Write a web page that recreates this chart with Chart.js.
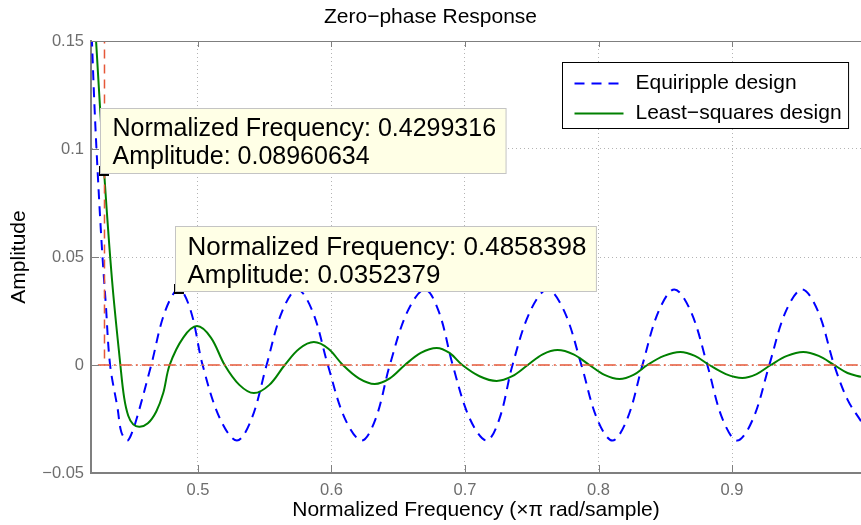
<!DOCTYPE html>
<html>
<head>
<meta charset="utf-8">
<script src="https://cdn.jsdelivr.net/npm/chart.js@4.4.1/dist/chart.umd.min.js"></script>
<style>
  html, body { margin: 0; padding: 0; background: #fff; overflow: hidden; }
  #wrap { width: 861px; height: 525px; }
</style>
</head>
<body>
<div id="wrap"><canvas id="chart" width="861" height="525"></canvas></div>
<script>
// valores (frecuencia normalizada, amplitud)
const seriesNames = ['Equiripple design', 'Least\u2212squares design'];

const equiX = [0.4200, 0.4225, 0.4250, 0.4280, 0.4310, 0.4342, 0.4398, 0.4426, 0.4469, 0.4499,
               0.4545, 0.4650, 0.4754, 0.4858, 0.4947, 0.5035, 0.5164, 0.5292, 0.5403, 0.5514,
               0.5630, 0.5745, 0.5859, 0.5973, 0.6100, 0.6227, 0.6332, 0.6437, 0.6569, 0.6700,
               0.6804, 0.6908, 0.7035, 0.7162, 0.7259, 0.7356, 0.7487, 0.7618, 0.7745, 0.7872,
               0.7988, 0.8104, 0.8217, 0.8329, 0.8449, 0.8568, 0.8692, 0.8815, 0.8927, 0.9039,
               0.9159, 0.9279, 0.9402, 0.9525, 0.9645, 0.9765, 0.9865, 0.9966];
const equiY = [0.160, 0.120, 0.088, 0.055, 0.028, 0.000, -0.020, -0.031, -0.035, -0.0324,
               -0.024, 0.000, 0.0249, 0.0352, 0.0249, 0.000, -0.0247, -0.035, -0.0247, 0.000,
               0.0247, 0.035, 0.0247, 0.000, -0.0247, -0.035, -0.0247, 0.000, 0.0247, 0.035,
               0.0247, 0.000, -0.0247, -0.035, -0.0247, 0.000, 0.0247, 0.035, 0.0247, 0.000,
               -0.0247, -0.035, -0.0247, 0.000, 0.0247, 0.035, 0.0247, 0.000, -0.0247, -0.035,
               -0.0247, 0.000, 0.0247, 0.035, 0.0247, 0.000, -0.016, -0.026];

const lsX = [0.4200, 0.4237, 0.4297, 0.4357, 0.4419, 0.4447, 0.4478, 0.4515, 0.4564, 0.4625,
             0.4688, 0.4740, 0.4788, 0.4890, 0.4993, 0.5097, 0.5200, 0.5310, 0.5419, 0.5535,
             0.5650, 0.5759, 0.5868, 0.5977, 0.6085, 0.6205, 0.6324, 0.6437, 0.6550, 0.6669,
             0.6788, 0.6884, 0.6980, 0.7109, 0.7237, 0.7354, 0.7470, 0.7582, 0.7693, 0.7813,
             0.7932, 0.8045, 0.8157, 0.8262, 0.8366, 0.8490, 0.8613, 0.8722, 0.8830, 0.8954,
             0.9077, 0.9184, 0.9290, 0.9412, 0.9533, 0.9649, 0.9765, 0.9865, 0.9966];
const lsY = [0.190, 0.150, 0.0896, 0.039, 0.000, -0.015, -0.0235, -0.0275, -0.0286, -0.027,
             -0.0215, -0.013, 0.000, 0.0127, 0.018, 0.0127, 0.000, -0.0092, -0.013, -0.0092,
             0.000, 0.0075, 0.0106, 0.0075, 0.000, -0.0062, -0.0088, -0.0062, 0.000, 0.0056,
             0.0079, 0.0056, 0.000, -0.0052, -0.0074, -0.0052, 0.000, 0.0049, 0.0069, 0.0049,
             0.000, -0.0046, -0.0065, -0.0046, 0.000, 0.0042, 0.0060, 0.0042, 0.000, -0.0042,
             -0.0060, -0.0042, 0.000, 0.0042, 0.0060, 0.0042, 0.000, -0.0037, -0.0055];

// mascara (linea roja)
const maskVertX = [0.43, 0.43];
const maskVertY = [0.16, 0.0];
const maskHorzX = [0.425, 0.9966];
const maskHorzY = [0.0, 0.0];

// data tips
const tipX = [0.4299316, 0.4858398];
const tipY = [0.08960634, 0.0352379];
const tipFontSize = [25, 26];

// ejes
const xMin = 0.4199, xMax = 0.9966;
const yMin = -0.05, yMax = 0.15;
const xTicks = [0.5, 0.6, 0.7, 0.8, 0.9];
const xTickLabels = ['0.5', '0.6', '0.7', '0.8', '0.9'];
const yTicks = [-0.05, 0, 0.05, 0.1, 0.15];
const yTickLabels = ['\u22120.05', '0', '0.05', '0.1', '0.15'];

const chartTitle = 'Zero\u2212phase Response';
const xLabel = 'Normalized Frequency (\u00d7\u03c0 rad/sample)';
const yLabel = 'Amplitude';

const FONT = '"Liberation Sans", Arial, Helvetica, sans-serif';
const axisColor = '#7f7f7f';
const gridColor = '#b4b4b4';
const tickColor = '#6e6e6e';
const maskColor = 'rgb(230, 88, 56)';

function toPoints(xs, ys) {
  return xs.map((v, i) => ({ x: v, y: ys[i] }));
}

// dibuja marco superior, marcas interiores, data tips y leyenda
const overlay = {
  id: 'overlay',
  afterDatasetsDraw(chart) {
    const { ctx, chartArea: a, scales: { x, y } } = chart;
    ctx.save();

    // marco superior y marcas hacia dentro
    ctx.strokeStyle = axisColor;
    ctx.lineWidth = 1;
    ctx.beginPath();
    ctx.moveTo(a.left, a.top + 0.5);
    ctx.lineTo(a.right, a.top + 0.5);
    xTicks.forEach(v => {
      const px = Math.round(x.getPixelForValue(v)) + 0.5;
      ctx.moveTo(px, a.bottom);
      ctx.lineTo(px, a.bottom - 8);
      ctx.moveTo(px, a.top);
      ctx.lineTo(px, a.top + 6);
    });
    yTicks.forEach(v => {
      const py = Math.round(y.getPixelForValue(v)) + 0.5;
      ctx.moveTo(a.left, py);
      ctx.lineTo(a.left + 8, py);
    });
    ctx.stroke();

    // data tips
    tipX.forEach((tx, i) => {
      ctx.font = tipFontSize[i] + 'px ' + FONT;
      const px = x.getPixelForValue(tx);
      const py = y.getPixelForValue(tipY[i]);
      const lines = ['Normalized Frequency: ' + tx, 'Amplitude: ' + tipY[i]];
      const w = Math.max(...lines.map(t => ctx.measureText(t).width)) + 22;
      const h = 65;
      const bx = Math.round(px) - 3.5;
      const by = Math.round(py) + 2.5 - h;

      ctx.strokeStyle = '#000';
      ctx.lineWidth = 2;
      ctx.strokeRect(Math.round(px) - 4, Math.round(py) - 4, 8, 8);

      ctx.fillStyle = 'rgb(255, 255, 230)';
      ctx.fillRect(bx, by, w, h);
      ctx.strokeStyle = '#c4c4c4';
      ctx.lineWidth = 1;
      ctx.strokeRect(bx, by, w, h);

      ctx.fillStyle = '#000';
      ctx.textBaseline = 'middle';
      ctx.textAlign = 'left';
      ctx.fillText(lines[0], bx + 12, by + 21);
      ctx.fillText(lines[1], bx + 12, by + 49);
    });

    // leyenda
    ctx.font = '21px ' + FONT;
    const textW = Math.max(...seriesNames.map(t => ctx.measureText(t).width));
    const lw = 73 + textW + 7;
    const lh = 66;
    const lx = Math.round(a.right - 13 - lw) + 0.5;
    const ly = Math.round(a.top + 21) + 0.5;
    ctx.fillStyle = '#fff';
    ctx.fillRect(lx, ly, lw, lh);
    ctx.strokeStyle = '#000';
    ctx.lineWidth = 1;
    ctx.strokeRect(lx, ly, lw, lh);

    const styles = [
      { color: '#0000ff', dash: [10, 7] },
      { color: '#008000', dash: [] }
    ];
    seriesNames.forEach((name, i) => {
      const cy = ly + 21 + i * 30;
      ctx.strokeStyle = styles[i].color;
      ctx.lineWidth = 2;
      ctx.setLineDash(styles[i].dash);
      ctx.beginPath();
      ctx.moveTo(lx + 12, cy);
      ctx.lineTo(lx + 61, cy);
      ctx.stroke();
      ctx.setLineDash([]);
      ctx.fillStyle = '#000';
      ctx.textBaseline = 'middle';
      ctx.fillText(name, lx + 73, cy);
    });

    ctx.restore();
  }
};

const ctx = document.getElementById('chart').getContext('2d');

new Chart(ctx, {
  type: 'line',
  data: {
    datasets: [
      {
        label: 'mask vertical',
        data: toPoints(maskVertX, maskVertY),
        borderColor: maskColor,
        borderWidth: 1.5,
        borderDash: [9, 6],
        pointRadius: 0,
        order: 0
      },
      {
        label: 'mask horizontal',
        data: toPoints(maskHorzX, maskHorzY),
        borderColor: maskColor,
        borderWidth: 1.5,
        borderDash: [12, 4, 2, 4],
        pointRadius: 0,
        order: 1
      },
      {
        label: seriesNames[1],
        data: toPoints(lsX, lsY),
        borderColor: '#008000',
        borderWidth: 2,
        pointRadius: 0,
        tension: 0.35,
        order: 2
      },
      {
        label: seriesNames[0],
        data: toPoints(equiX, equiY),
        borderColor: '#0000ff',
        borderWidth: 2,
        borderDash: [10, 7],
        pointRadius: 0,
        tension: 0.35,
        order: 3
      }
    ]
  },
  options: {
    responsive: false,
    animation: false,
    devicePixelRatio: 1,
    layout: { padding: 0 },
    plugins: {
      legend: { display: false },
      tooltip: { enabled: false },
      title: {
        display: true,
        text: chartTitle,
        color: '#000',
        font: { family: FONT, size: 21, weight: 'normal' },
        padding: { top: 5, bottom: 10.8 }
      }
    },
    scales: {
      x: {
        type: 'linear',
        min: xMin,
        max: xMax,
        afterBuildTicks: s => { s.ticks = xTicks.map(v => ({ value: v })); },
        afterFit: s => { s.height = 52; },
        grid: { color: gridColor, lineWidth: 1, drawTicks: false },
        border: { color: axisColor, width: 2, dash: [1, 3] },
        ticks: {
          color: tickColor,
          font: { family: FONT, size: 16.5 },
          padding: 8,
          maxRotation: 0,
          autoSkip: false,
          callback: (v, i) => xTickLabels[i]
        },
        title: {
          display: true,
          text: xLabel,
          color: '#000',
          font: { family: FONT, size: 21 },
          padding: { top: 0, bottom: 2 }
        }
      },
      y: {
        type: 'linear',
        min: yMin,
        max: yMax,
        afterBuildTicks: s => { s.ticks = yTicks.map(v => ({ value: v })); },
        afterFit: s => { s.width = 91; },
        grid: { color: gridColor, lineWidth: 1, drawTicks: false },
        border: { color: axisColor, width: 2, dash: [1, 3] },
        ticks: {
          color: tickColor,
          font: { family: FONT, size: 16.5 },
          padding: 7,
          autoSkip: false,
          callback: (v, i) => yTickLabels[i]
        },
        title: {
          display: true,
          text: yLabel,
          color: '#000',
          font: { family: FONT, size: 21 },
          padding: { top: 7, bottom: 0 }
        }
      }
    }
  },
  plugins: [overlay]
});
</script>
</body>
</html>
